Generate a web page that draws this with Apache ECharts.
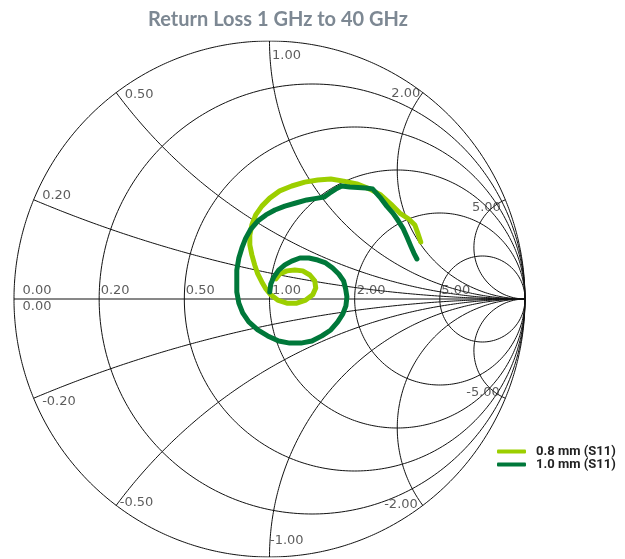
<!DOCTYPE html>
<html>
<head>
<meta charset="utf-8">
<script src="https://cdn.jsdelivr.net/npm/echarts@6/dist/echarts.min.js"></script>
<style>
  html, body { margin: 0; padding: 0; background: #fff; }
  #chart { width: 625px; height: 559px; }
</style>
</head>
<body>
<div id="chart"></div>
<script>
// Reflection coefficient S11 (real, imaginary), 1 GHz to 40 GHz
const s11_08mm = [
  [0.025, 0.078], [0.040, 0.097], [0.068, 0.109], [0.099, 0.112], [0.130, 0.109],
  [0.158, 0.093], [0.177, 0.070], [0.181, 0.043], [0.169, 0.016], [0.142, -0.004],
  [0.107, -0.016], [0.068, -0.016], [0.032, -0.004], [0.005, 0.016], [-0.014, 0.039],
  [-0.030, 0.066], [-0.046, 0.097], [-0.058, 0.132], [-0.069, 0.171], [-0.077, 0.209],
  [-0.077, 0.248], [-0.069, 0.287], [-0.054, 0.326], [-0.030, 0.360], [0.001, 0.391],
  [0.040, 0.419], [0.087, 0.438], [0.138, 0.453], [0.189, 0.461], [0.240, 0.465],
  [0.290, 0.457], [0.342, 0.446], [0.393, 0.426], [0.436, 0.403], [0.475, 0.368],
  [0.510, 0.333], [0.545, 0.310], [0.569, 0.287], [0.580, 0.256], [0.592, 0.221]
];
const s11_10mm = [
  [0.001, 0.027], [0.005, 0.058], [0.017, 0.085], [0.036, 0.112], [0.060, 0.132],
  [0.087, 0.147], [0.119, 0.159], [0.154, 0.159], [0.189, 0.151], [0.220, 0.140],
  [0.247, 0.120], [0.271, 0.097], [0.290, 0.070], [0.298, 0.039], [0.303, 0.008],
  [0.299, -0.027], [0.287, -0.058], [0.267, -0.089], [0.240, -0.120], [0.205, -0.143],
  [0.166, -0.163], [0.123, -0.171], [0.079, -0.171], [0.036, -0.163], [-0.007, -0.143],
  [-0.046, -0.120], [-0.081, -0.089], [-0.105, -0.054], [-0.120, -0.016], [-0.128, 0.027],
  [-0.128, 0.070], [-0.128, 0.112], [-0.120, 0.159], [-0.108, 0.198], [-0.093, 0.236],
  [-0.073, 0.271], [-0.046, 0.302], [-0.014, 0.326], [0.021, 0.345], [0.060, 0.360],
  [0.103, 0.372], [0.146, 0.384], [0.189, 0.391], [0.213, 0.395], [0.236, 0.411],
  [0.259, 0.426], [0.283, 0.438], [0.314, 0.434], [0.346, 0.432], [0.377, 0.430],
  [0.404, 0.426], [0.432, 0.395], [0.459, 0.360], [0.483, 0.333], [0.502, 0.306],
  [0.522, 0.275], [0.538, 0.240], [0.553, 0.205], [0.565, 0.178], [0.577, 0.155]
];
const seriesNames = ['0.8 mm (S11)', '1.0 mm (S11)'];

// Smith chart grid values (normalized impedance)
const resistanceValues = [0, 0.2, 0.5, 1, 2, 5];
const reactanceValues = [0.2, 0.5, 1, 2, 5, -0.2, -0.5, -1, -2, -5];
const resistanceTicks = [0, 0.2, 0.5, 1, 2, 5];
const reactanceTicks = [1, 0.5, 0.2, 0, -0.2, -0.5, -1, -2, -5, 5, 2];

// label placement around the rim: [align, dx, dy]
const reactanceLabelStyle = {
  '1': ['left', 3, 15], '0.5': ['left', 9, 3], '0.2': ['left', 9, -3.5], '0': ['left', 9, 8],
  '-0.2': ['left', 9, 3.5], '-0.5': ['left', 4, -2.5], '-1': ['left', 1, -16],
  '-2': ['right', -4.5, 0], '-5': ['right', -5, -5.5], '5': ['right', -4, 8.5], '2': ['right', -2, 2]
};
const resistanceLabelDx = { '0': 9, '0.2': 2, '0.5': 2, '1': 3, '2': 2.5, '5': 2 };

// z = r + jx  ->  gamma = (z - 1) / (z + 1)
function gamma(r, x) {
  const d = (r + 1) * (r + 1) + x * x;
  return [(r * r - 1 + x * x) / d, (2 * x) / d];
}

const gridStyle = { color: '#111', width: 1 };
const gridSeries = [];

// constant-resistance circles
resistanceValues.forEach(function (r) {
  const cx = r / (1 + r), rad = 1 / (1 + r), pts = [];
  for (let i = 0; i <= 720; i++) {
    const a = (i / 720) * 2 * Math.PI;
    pts.push([cx + rad * Math.cos(a), rad * Math.sin(a)]);
  }
  gridSeries.push({
    type: 'line', data: pts, symbol: 'none', silent: true, animation: false,
    lineStyle: gridStyle, z: 1
  });
});

// constant-reactance arcs
reactanceValues.forEach(function (x) {
  const pts = [];
  for (let i = 0; i < 600; i++) {
    const r = Math.tan((i / 600) * Math.PI / 2);
    pts.push(gamma(r, x));
  }
  pts.push([1, 0]);
  gridSeries.push({
    type: 'line', data: pts, symbol: 'none', silent: true, animation: false,
    lineStyle: gridStyle, z: 1
  });
});

// real axis
gridSeries.push({
  type: 'line', data: [[-1, 0], [1, 0]], symbol: 'none', silent: true, animation: false,
  lineStyle: gridStyle, z: 1
});

const fmt = function (v) { return v.toFixed(2); };
const labelFont = { fontFamily: 'DejaVu Sans', fontSize: 13, color: '#333' };

const tickData = [];
resistanceTicks.forEach(function (r) {
  tickData.push({
    name: fmt(r), value: gamma(r, 0),
    label: Object.assign({
      show: true, position: [resistanceLabelDx[String(r)], -7.5],
      align: 'left', verticalAlign: 'middle', formatter: '{b}'
    }, labelFont)
  });
});
reactanceTicks.forEach(function (x) {
  const st = reactanceLabelStyle[String(x)];
  tickData.push({
    name: fmt(x), value: gamma(0, x),
    label: Object.assign({
      show: true, position: [st[1], st[2]],
      align: st[0], verticalAlign: 'middle', formatter: '{b}'
    }, labelFont)
  });
});

const chart = echarts.init(document.getElementById('chart'), null, { renderer: 'canvas' });
chart.setOption({
  animation: false,
  backgroundColor: '#fff',
  title: {
    text: 'Return Loss 1 GHz to 40 GHz',
    left: 273, top: 5, textAlign: 'center',
    textStyle: { fontFamily: 'Lato', fontWeight: 'bold', fontSize: 20, color: '#7d8893' }
  },
  legend: {
    data: seriesNames,
    orient: 'vertical',
    left: 492, top: 440,
    itemWidth: 29, itemHeight: 4, itemGap: 0,
    icon: 'roundRect',
    textStyle: {
      fontFamily: 'Roboto', fontWeight: 'bold', fontSize: 13, color: '#222',
      lineHeight: 12, padding: [0, 0, 0, 5]
    }
  },
  grid: { left: 14, top: 41, width: 511, height: 516 },
  xAxis: { type: 'value', min: -1, max: 1, show: false },
  yAxis: { type: 'value', min: -1, max: 1, show: false },
  series: gridSeries.concat([
    {
      type: 'scatter', data: tickData, symbolSize: 1, silent: true,
      itemStyle: { color: 'rgba(0,0,0,0)' }, z: 2
    },
    {
      name: seriesNames[0], type: 'line', data: s11_08mm, symbol: 'none', smooth: false,
      itemStyle: { color: '#9ccf00' },
      lineStyle: { color: '#9ccf00', width: 5, cap: 'round', join: 'round' }, z: 3
    },
    {
      name: seriesNames[1], type: 'line', data: s11_10mm, symbol: 'none', smooth: false,
      itemStyle: { color: '#00783a' },
      lineStyle: { color: '#00783a', width: 5, cap: 'round', join: 'round' }, z: 4
    }
  ])
});
</script>
</body>
</html>
